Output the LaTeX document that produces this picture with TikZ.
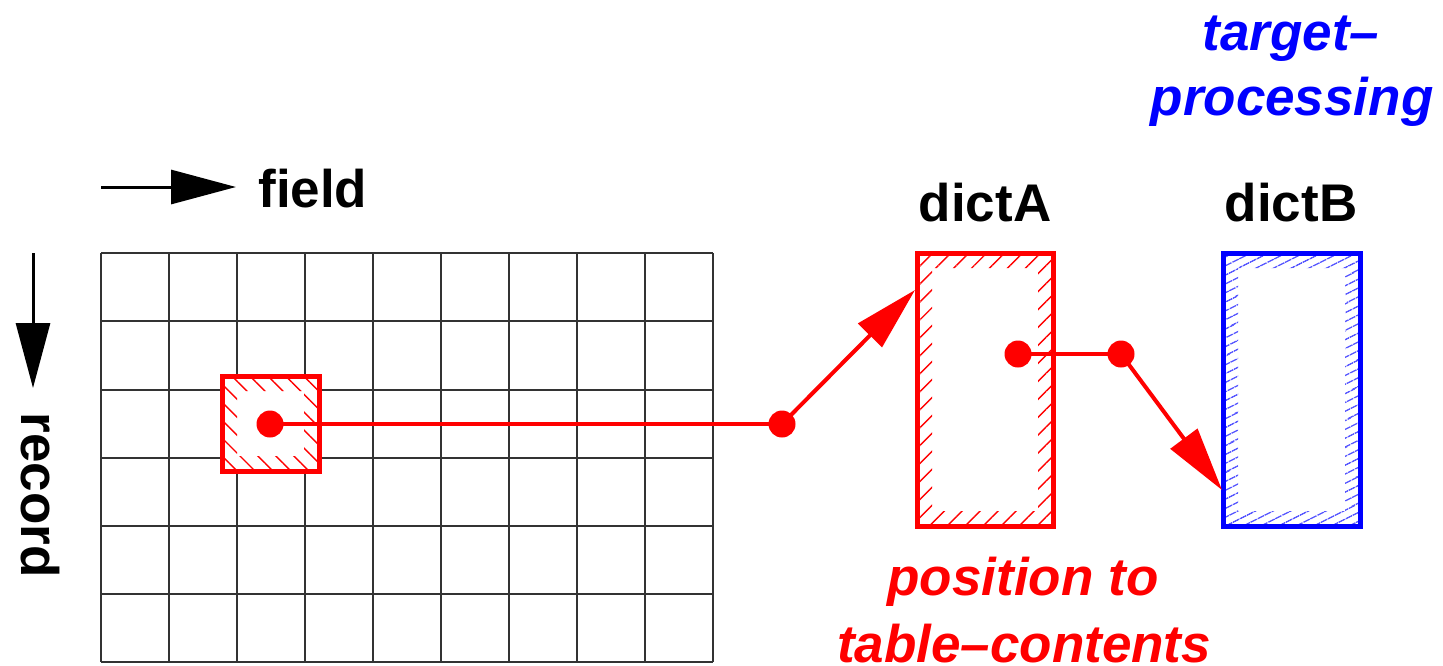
\documentclass[tikz,border=0pt]{standalone}
\usepackage{fontspec}
\setmainfont{Liberation Sans}
\usetikzlibrary{arrows.meta,patterns.meta}
\begin{document}
\begin{tikzpicture}[x=0.5pt,y=-0.5pt,
  lbl/.style={font=\fontsize{26.5}{32}\selectfont\bfseries, inner sep=0pt},
  ilbl/.style={font=\fontsize{26.5}{32}\selectfont\bfseries\itshape, inner sep=0pt},
  gridline/.style={line width=0.6pt, black!80},
  hatchbox/.style n args={3}{draw=#1, line width=2.5pt, fill=white, inner sep=0pt,
    path picture={\fill[pattern={Lines[angle=#2,distance=#3,line width=0.7pt]}, pattern color=#1, even odd rule]
      (path picture bounding box.south west) rectangle (path picture bounding box.north east)
      ([shift={(7.5pt,7.5pt)}]path picture bounding box.south west) rectangle ([shift={(-7.5pt,-7.5pt)}]path picture bounding box.north east);}},
  dot/.style={circle, fill=red, minimum size=13.5pt, inner sep=0pt},
  redline/.style={red, line width=2pt},
  redarrow/.style={red, line width=2pt, -{Triangle[length=32pt,width=16.5pt]}},
  blackarrow/.style={black, line width=1.5pt, -{Triangle[length=32.5pt,width=17pt]}}
]
\useasboundingbox (0,0) rectangle (1443,665);

% grid
\foreach \gx in {101,169,237,305,373,441,509,577,645,713}
  \draw[gridline] (\gx,253) -- (\gx,662);
\foreach \gy in {253,321,390,458,526,594,662}
  \draw[gridline] (101,\gy) -- (713,\gy);

% axis arrows and labels
\coordinate (fs) at (101,187);
\coordinate (fe) at (236,187);
\draw[blackarrow] (fs) -- (fe);
\node[lbl, anchor=base west] (field) at (258,207) {field};
\coordinate (rs) at (33,253);
\coordinate (re) at (33,388);
\draw[blackarrow] (rs) -- (re);
\node[lbl, rotate=-90] (record) at (40,495) {record};

% boxes
\node[hatchbox={red}{-45}{6.35pt}, minimum width=48.5pt, minimum height=47.5pt] (cell) at (270.5,423.5) {};
\node[hatchbox={red}{45}{6.35pt}, minimum width=68pt, minimum height=136.5pt] (dictA) at (985,389.5) {};
\node[hatchbox={blue}{27}{4pt}, minimum width=68.5pt, minimum height=136.5pt] (dictB) at (1291.5,389.5) {};

\node[lbl, anchor=base] (labA) at (985,221) {dictA};
\node[lbl, anchor=base] (labB) at (1291,221) {dictB};

% dots and connectors
\node[dot] (p1) at (270,424) {};
\node[dot] (p2) at (782,424) {};
\node[dot] (p3) at (1018,354) {};
\node[dot] (p4) at (1121,354) {};
\coordinate (tipA) at (915,290);
\coordinate (tipB) at (1222,490);
\draw[redline] (p1.center) -- (p2.center);
\draw[redarrow] (p2.center) -- (tipA);
\draw[redline] (p3.center) -- (p4.center);
\draw[redarrow] (p4.center) -- (tipB);

% italic labels
\node[ilbl, text=blue, anchor=base] (tp1) at (1291,50) {target–};
\node[ilbl, text=blue, anchor=base] (tp2) at (1292,115) {processing};
\node[ilbl, text=red, anchor=base] (pt1) at (1023,595) {position to};
\node[ilbl, text=red, anchor=base] (pt2) at (1024,662) {table–contents};
\end{tikzpicture}
\end{document}
